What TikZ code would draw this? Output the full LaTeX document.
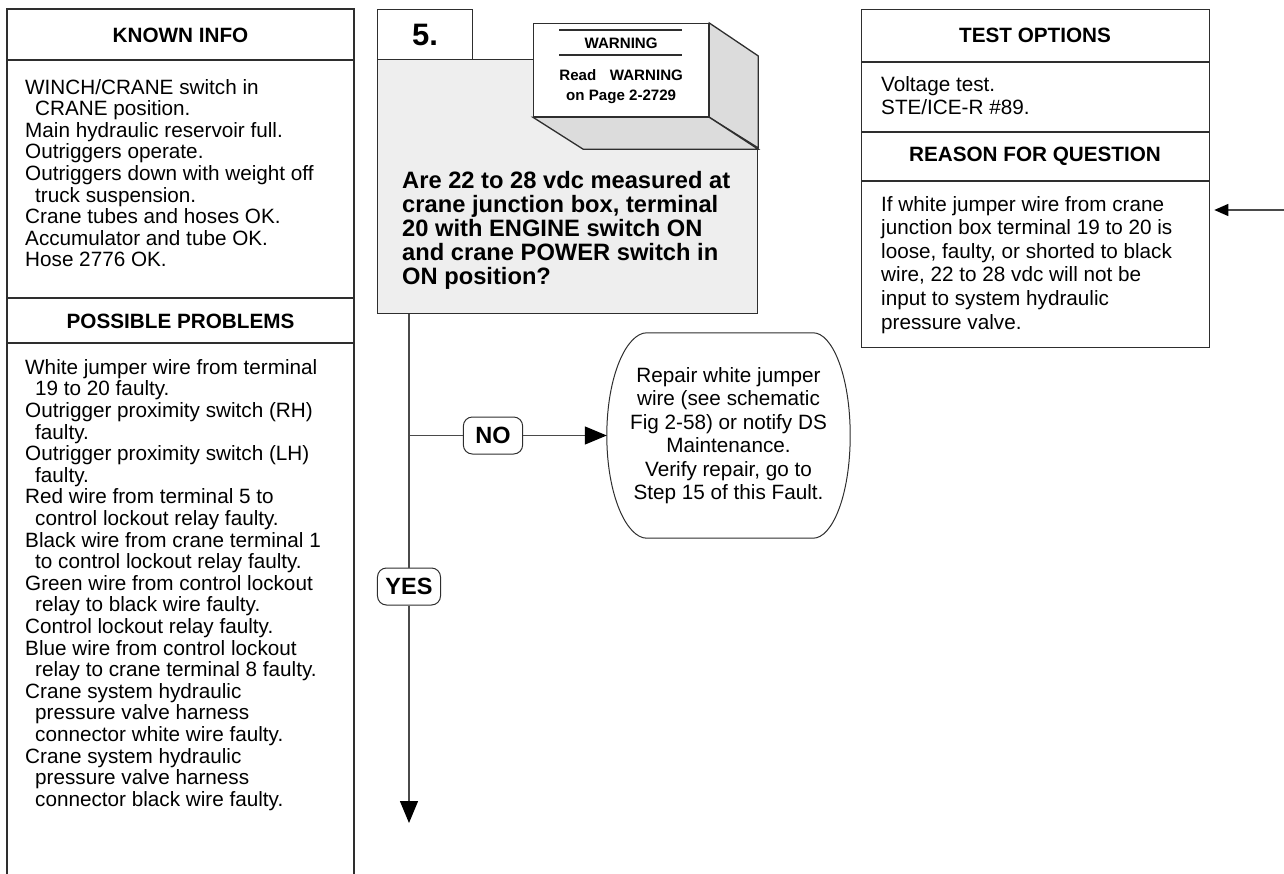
\documentclass[tikz,border=0pt]{standalone}
\usepackage{fontspec}
\setmainfont{Liberation Sans}
\usetikzlibrary{arrows.meta,calc}
\definecolor{edge}{HTML}{2E2E2E}
\definecolor{wire}{HTML}{4A4A4A}
\definecolor{qfill}{HTML}{EEEEEE}
\definecolor{shade}{HTML}{DCDCDC}

% strut that fixes the height of a first text line
\newcommand{\firstline}[1]{\rule{0pt}{#1}}

\tikzset{
  frame/.style={draw=edge, line width=1.3pt},
  flow/.style={draw=wire, line width=1.3pt},
  body/.style={font=\fontsize{20.7}{21.6}\selectfont, anchor=north west, align=left, inner sep=0pt},
  bodyr/.style={font=\fontsize{20.7}{23.6}\selectfont, anchor=north west, align=left, inner sep=0pt},
  head/.style={font=\bfseries\fontsize{20.7}{24}\selectfont, inner sep=0pt},
  answer/.style={draw=edge, line width=1pt, rounded corners=9pt, fill=white,
    font=\bfseries\fontsize{23.5}{26}\selectfont, minimum height=37pt, inner xsep=8pt, inner ysep=0pt},
  bigtip/.style={-{Triangle[length=22pt,width=18pt,color=black]}},
  smalltip/.style={-{Triangle[length=14pt,width=12pt,color=black]}},
}

\begin{document}
\begin{tikzpicture}[x=1pt,y=-1pt]
\useasboundingbox (0,0) rectangle (1284,874);

% ---------------- left column: known info / possible problems
\draw[frame] (7,874) -- (7,9) -- (354,9) -- (354,874);
\draw[frame] (7,60) -- (354,60);
\draw[frame] (7,298) -- (354,298);
\draw[frame] (7,343) -- (354,343);
\node[head] (knownhead) at (180.5,35) {KNOWN INFO};
\node[head] (probhead) at (180.5,321) {POSSIBLE PROBLEMS};

\node[body] (known) at (25,78) {\firstline{16pt}WINCH/CRANE switch in\\
\hspace*{10pt}CRANE position.\\
Main hydraulic reservoir full.\\
Outriggers operate.\\
Outriggers down with weight off\\
\hspace*{10pt}truck suspension.\\
Crane tubes and hoses OK.\\
Accumulator and tube OK.\\
Hose 2776 OK.};

\node[body] (problems) at (25,358) {\firstline{16pt}White jumper wire from terminal\\
\hspace*{10pt}19 to 20 faulty.\\
Outrigger proximity switch (RH)\\
\hspace*{10pt}faulty.\\
Outrigger proximity switch (LH)\\
\hspace*{10pt}faulty.\\
Red wire from terminal 5 to\\
\hspace*{10pt}control lockout relay faulty.\\
Black wire from crane terminal 1\\
\hspace*{10pt}to control lockout relay faulty.\\
Green wire from control lockout\\
\hspace*{10pt}relay to black wire faulty.\\
Control lockout relay faulty.\\
Blue wire from control lockout\\
\hspace*{10pt}relay to crane terminal 8 faulty.\\
Crane system hydraulic\\
\hspace*{10pt}pressure valve harness\\
\hspace*{10pt}connector white wire faulty.\\
Crane system hydraulic\\
\hspace*{10pt}pressure valve harness\\
\hspace*{10pt}connector black wire faulty.};

% ---------------- step 5 question box
\node[frame, fill=qfill, anchor=north west, minimum width=380, minimum height=254, inner sep=0pt] (q) at (377,59) {};
\node[frame, fill=white, anchor=north west, minimum width=95, minimum height=50, inner sep=0pt,
  font=\bfseries\fontsize{31}{34}\selectfont] (stepno) at (377,9) {5.};

% warning block drawn as a raised box
\node[frame, fill=white, anchor=north west, minimum width=175, minimum height=93, inner sep=0pt] (warn) at (533,23) {};
\draw[frame, fill=shade] (warn.north east) -- ++(49,33) -- ++(0,92) -- (warn.south east) -- cycle;
\draw[frame, fill=shade] (warn.south west) -- (warn.south east) -- ++(49,32) -- ++(-175,0) -- cycle;
\draw[draw=edge, line width=2pt] ($(warn.north)+(-62,7)$) -- ($(warn.north)+(61,7)$);
\draw[draw=edge, line width=2pt] ($(warn.north)+(-62,32)$) -- ($(warn.north)+(61,32)$);
\node[font=\bfseries\fontsize{15.1}{20}\selectfont, inner sep=0pt] (warnhead) at ($(warn.north)+(0,20)$) {WARNING};
\node[font=\bfseries\fontsize{15.1}{20}\selectfont, align=center, anchor=north, inner sep=0pt] (warntext)
  at ($(warn.north)+(0,45)$) {\firstline{12pt}Read\hspace{0.9em}WARNING\\on Page 2-2729};

\node[font=\bfseries\fontsize{23.7}{24}\selectfont, anchor=north west, align=left, inner sep=0pt] (qtext) at (402,170)
  {\firstline{18pt}Are 22 to 28 vdc measured at\\
   crane junction box, terminal\\
   20 with ENGINE switch ON\\
   and crane POWER switch in\\
   ON position?};

% ---------------- branches
\node[answer, inner xsep=12pt] (no) at (493,435.5) {NO};
\node[answer] (yes) at (409,586.5) {YES};

\node[font=\fontsize{20.7}{23.5}\selectfont, align=center, minimum width=243, minimum height=205, inner sep=0pt] (repair) at (728.5,435.5)
  {Repair white jumper\\
   wire (see schematic\\
   Fig 2-58) or notify DS\\
   Maintenance.\\
   Verify repair, go to\\
   Step 15 of this Fault.};
\draw[frame, line width=1pt]
  ($(repair.north west)+(40,0)$) -- ($(repair.north east)+(-37,0)$)
  .. controls ($(repair.north east)+(-18,0)$) and ($(repair.east)+(0,-60)$) .. (repair.east)
  .. controls ($(repair.east)+(0,60)$) and ($(repair.south east)+(-18,0)$) .. ($(repair.south east)+(-37,0)$)
  -- ($(repair.south west)+(40,0)$)
  .. controls ($(repair.south west)+(20,0)$) and ($(repair.west)+(0,60)$) .. (repair.west)
  .. controls ($(repair.west)+(0,-60)$) and ($(repair.north west)+(20,0)$) .. ($(repair.north west)+(40,0)$) -- cycle;

\coordinate (split) at (409,435.5);
\coordinate (down) at (409,823);
\draw[flow] (q.south -| yes.north) -- (yes);
\draw[flow] (split) -- (no);
\draw[flow, bigtip] (no) -- (repair.west);
\draw[flow, bigtip] (yes) -- (down);

% ---------------- right column: test options / reason
\node[frame, anchor=north west, minimum width=348, minimum height=338, inner sep=0pt] (opts) at (861,9) {};
\draw[frame] (opts.west |- 0,62) -- (opts.east |- 0,62);
\draw[frame] (opts.west |- 0,132) -- (opts.east |- 0,132);
\draw[frame] (opts.west |- 0,181) -- (opts.east |- 0,181);
\node[head] (testhead) at (1035,35.5) {TEST OPTIONS};
\node[bodyr] (tests) at (881,75) {\firstline{16pt}Voltage test.\\STE/ICE-R \#89.};
\node[head] (reasonhead) at (1035,156.5) {REASON FOR QUESTION};
\node[bodyr] (reason) at (881,195) {\firstline{16pt}If white jumper wire from crane\\
junction box terminal 19 to 20 is\\
loose, faulty, or shorted to black\\
wire, 22 to 28 vdc will not be\\
input to system hydraulic\\
pressure valve.};

\coordinate (feed) at (1284,210);
\draw[flow, smalltip, shorten >=4pt] (feed) -- (feed -| opts.east);
\end{tikzpicture}
\end{document}
